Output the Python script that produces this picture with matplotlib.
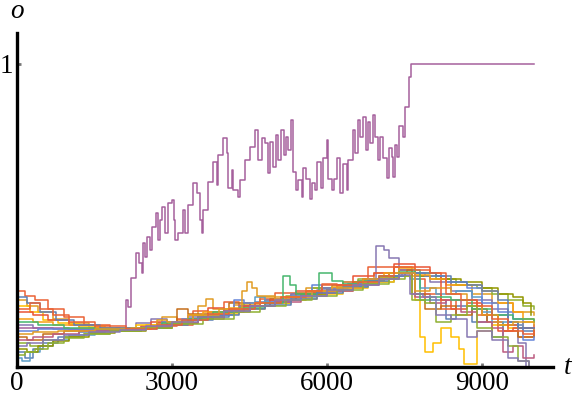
import matplotlib
matplotlib.use('Agg')
import matplotlib.pyplot as plt

# 每条轨迹: (t, o) 阶梯点
run_01 = [(0, 0.05), (150, 0.03), (300, 0.06), (500, 0.08), (800, 0.10), (1200, 0.115), (1700, 0.122),
          (2300, 0.13), (2900, 0.15), (3300, 0.17), (3600, 0.165), (4100, 0.19), (4600, 0.215), (4900, 0.21),
          (5300, 0.24), (5800, 0.25), (6200, 0.265), (6700, 0.285), (7100, 0.30), (7450, 0.31), (7700, 0.24),
          (8000, 0.22), (8300, 0.16), (8500, 0.20), (8800, 0.15), (9100, 0.17), (9500, 0.14), (9800, 0.12),
          (10000, 0.12)]
run_02 = [(0, 0.22), (200, 0.20), (400, 0.18), (700, 0.16), (1000, 0.145), (1400, 0.13), (1900, 0.125),
          (2500, 0.14), (2800, 0.165), (3100, 0.155), (3500, 0.20), (3650, 0.225), (3800, 0.19), (4200, 0.205),
          (4700, 0.23), (5100, 0.22), (5600, 0.26), (6000, 0.25), (6500, 0.28), (6900, 0.31), (7300, 0.33),
          (7650, 0.30), (8000, 0.29), (8400, 0.27), (8800, 0.24), (9200, 0.21), (9600, 0.18), (10000, 0.17)]
run_03 = [(0, 0.08), (250, 0.07), (500, 0.09), (900, 0.10), (1300, 0.11), (1800, 0.12), (2400, 0.13),
          (3000, 0.15), (3400, 0.17), (3900, 0.18), (4400, 0.21), (4800, 0.22), (5200, 0.235), (5700, 0.26),
          (6100, 0.27), (6600, 0.29), (7000, 0.30), (7400, 0.32), (7700, 0.31), (8100, 0.29), (8500, 0.27),
          (8900, 0.26), (9200, 0.24), (9500, 0.22), (9800, 0.20), (10000, 0.19)]
run_04 = [(0, 0.25), (150, 0.235), (350, 0.22), (600, 0.19), (900, 0.165), (1300, 0.14), (1800, 0.128),
          (2400, 0.135), (3100, 0.16), (3400, 0.185), (3700, 0.17), (4000, 0.215), (4300, 0.20), (4700, 0.225),
          (5000, 0.245), (5400, 0.24), (5900, 0.27), (6400, 0.275), (6800, 0.33), (7100, 0.33), (7400, 0.32),
          (7700, 0.29), (7900, 0.24), (8200, 0.19), (8500, 0.22), (8900, 0.17), (9300, 0.14), (9700, 0.10),
          (10000, 0.11)]
run_05 = [(0, 0.14), (300, 0.13), (700, 0.125), (1200, 0.125), (2000, 0.125), (2300, 0.145), (2600, 0.16),
          (2900, 0.15), (3300, 0.165), (3800, 0.18), (4300, 0.20), (4800, 0.22), (5300, 0.24), (5800, 0.255),
          (6300, 0.27), (6800, 0.29), (6950, 0.40), (7100, 0.385), (7200, 0.36), (7400, 0.32), (7700, 0.30),
          (8000, 0.28), (8400, 0.25), (8800, 0.22), (9200, 0.19), (9500, 0.15), (9700, 0.08), (9850, 0.0),
          (10000, 0.0)]
run_06 = [(0, 0.10), (200, 0.09), (500, 0.11), (900, 0.12), (1500, 0.123), (2200, 0.13), (2700, 0.145),
          (3100, 0.19), (3300, 0.175), (3700, 0.18), (4100, 0.21), (4500, 0.20), (4900, 0.225), (5400, 0.245),
          (5900, 0.26), (6300, 0.28), (6700, 0.29), (7200, 0.31), (7550, 0.32), (7650, 0.24), (7900, 0.19),
          (8200, 0.20), (8500, 0.17), (8800, 0.19), (9100, 0.15), (9400, 0.12), (9700, 0.10), (10000, 0.13)]
run_07 = [(0, 0.03), (100, 0.02), (250, 0.05), (450, 0.07), (700, 0.09), (1000, 0.105), (1500, 0.118),
          (2100, 0.125), (2700, 0.14), (3200, 0.155), (3700, 0.175), (4200, 0.19), (4600, 0.23), (4800, 0.215),
          (5300, 0.23), (5800, 0.25), (6300, 0.265), (6800, 0.28), (7300, 0.30), (7600, 0.29), (7800, 0.26),
          (8100, 0.24), (8500, 0.25), (8800, 0.23), (9000, 0.18), (9200, 0.10), (9400, 0.15), (9700, 0.13),
          (10000, 0.13)]
run_08 = [(0, 0.20), (250, 0.18), (500, 0.155), (800, 0.145), (1200, 0.135), (1700, 0.13), (2300, 0.14),
          (2800, 0.145), (3300, 0.16), (3800, 0.175), (4300, 0.19), (4800, 0.21), (5300, 0.225), (5800, 0.24),
          (6300, 0.26), (6800, 0.28), (7300, 0.30), (7600, 0.31), (7700, 0.22), (7800, 0.10), (7900, 0.05),
          (8050, 0.08), (8200, 0.13), (8400, 0.10), (8550, 0.06), (8650, 0.01), (8900, 0.12), (9200, 0.14),
          (9500, 0.13), (9800, 0.15), (10000, 0.15)]
run_09 = [(0, 0.13), (1000, 0.125), (2109, 0.221), (2148, 0.198), (2206, 0.294), (2303, 0.376), (2361, 0.343),
          (2419, 0.310), (2438, 0.409), (2477, 0.363), (2516, 0.429), (2574, 0.386), (2612, 0.462),
          (2690, 0.508), (2729, 0.419), (2767, 0.485), (2806, 0.528), (2864, 0.442), (2922, 0.541),
          (2999, 0.551), (3038, 0.485), (3057, 0.419), (3115, 0.442), (3212, 0.518), (3251, 0.442),
          (3309, 0.535), (3406, 0.607), (3483, 0.574), (3541, 0.485), (3580, 0.442), (3599, 0.518),
          (3696, 0.611), (3793, 0.677), (3870, 0.601), (3889, 0.700), (3986, 0.756), (4064, 0.706),
          (4083, 0.591), (4160, 0.650), (4180, 0.584), (4276, 0.560), (4315, 0.617), (4412, 0.683),
          (4509, 0.726), (4605, 0.782), (4663, 0.683), (4741, 0.756), (4799, 0.739), (4857, 0.640),
          (4896, 0.743), (4954, 0.660), (5012, 0.766), (5050, 0.683), (5108, 0.782), (5166, 0.700),
          (5205, 0.759), (5244, 0.716), (5302, 0.815), (5341, 0.644), (5399, 0.584), (5437, 0.617),
          (5515, 0.561), (5534, 0.657), (5592, 0.620), (5670, 0.555), (5708, 0.607), (5766, 0.584),
          (5805, 0.677), (5882, 0.591), (5921, 0.690), (5998, 0.750), (6018, 0.620), (6095, 0.584),
          (6134, 0.620), (6192, 0.690), (6250, 0.574), (6308, 0.670), (6386, 0.584), (6405, 0.683),
          (6502, 0.782), (6540, 0.706), (6598, 0.815), (6637, 0.760), (6695, 0.825), (6753, 0.716),
          (6792, 0.809), (6831, 0.740), (6889, 0.832), (6927, 0.759), (6985, 0.683), (7024, 0.759),
          (7082, 0.690), (7159, 0.624), (7198, 0.723), (7256, 0.693), (7276, 0.627), (7314, 0.733),
          (7353, 0.693), (7392, 0.795), (7469, 0.759), (7508, 0.858), (7585, 0.957), (7624, 1.0), (10000, 1.0)]
run_10 = [(0, 0.06), (200, 0.05), (400, 0.07), (700, 0.085), (1000, 0.10), (1400, 0.112), (1900, 0.12),
          (2500, 0.13), (3000, 0.145), (3500, 0.165), (4000, 0.185), (4500, 0.20), (5000, 0.22), (5500, 0.24),
          (6000, 0.255), (6500, 0.275), (7000, 0.295), (7400, 0.31), (7800, 0.30), (8200, 0.29), (8600, 0.28),
          (9000, 0.26), (9300, 0.24), (9600, 0.23), (9800, 0.21), (9950, 0.17)]
run_11 = [(0, 0.18), (300, 0.17), (600, 0.155), (1000, 0.14), (1500, 0.13), (2000, 0.125), (2600, 0.15),
          (2900, 0.14), (3400, 0.16), (3700, 0.195), (4000, 0.185), (4400, 0.20), (4900, 0.22), (5400, 0.25),
          (5700, 0.245), (6200, 0.27), (6500, 0.30), (6900, 0.31), (7300, 0.34), (7500, 0.34), (7700, 0.33),
          (8000, 0.31), (8200, 0.22), (8400, 0.19), (8700, 0.21), (9000, 0.17), (9300, 0.12), (9600, 0.13),
          (10000, 0.14)]
run_12 = [(0, 0.12), (400, 0.125), (900, 0.124), (1600, 0.124), (2300, 0.13), (2800, 0.15), (3200, 0.16),
          (3700, 0.17), (4200, 0.22), (4400, 0.21), (4900, 0.215), (5300, 0.235), (5700, 0.27), (5900, 0.26),
          (6400, 0.275), (6800, 0.29), (7200, 0.30), (7500, 0.31), (7900, 0.30), (8300, 0.28), (8700, 0.26),
          (9000, 0.21), (9300, 0.18), (9600, 0.16), (9800, 0.09), (10000, 0.10)]
run_13 = [(0, 0.16), (300, 0.15), (700, 0.14), (1200, 0.13), (1900, 0.125), (2600, 0.135), (3000, 0.15),
          (3300, 0.17), (3600, 0.18), (4100, 0.195), (4600, 0.21), (5100, 0.23), (5600, 0.25), (6100, 0.265),
          (6600, 0.285), (7100, 0.31), (7400, 0.325), (7700, 0.305), (8000, 0.29), (8300, 0.27), (8700, 0.27),
          (9000, 0.25), (9300, 0.21), (9600, 0.18), (9800, 0.16), (10000, 0.15)]
run_14 = [(0, 0.09), (300, 0.10), (700, 0.11), (1200, 0.118), (1800, 0.123), (2400, 0.132), (3000, 0.145),
          (3500, 0.16), (4000, 0.18), (4500, 0.20), (5000, 0.215), (5500, 0.235), (6000, 0.25), (6500, 0.27),
          (7000, 0.29), (7400, 0.31), (7700, 0.23), (8000, 0.21), (8300, 0.22), (8600, 0.18), (8900, 0.15),
          (9200, 0.13), (9400, 0.05), (9600, 0.07), (9800, 0.03), (10000, 0.04)]
run_15 = [(0, 0.15), (400, 0.14), (900, 0.13), (1500, 0.127), (2200, 0.13), (2800, 0.145), (3300, 0.16),
          (3800, 0.18), (4300, 0.195), (4800, 0.21), (5150, 0.30), (5280, 0.27), (5400, 0.24), (5800, 0.25),
          (5850, 0.31), (6100, 0.285), (6300, 0.275), (6600, 0.285), (7000, 0.30), (7400, 0.315), (7700, 0.32),
          (7800, 0.22), (8000, 0.23), (8400, 0.22), (8800, 0.19), (9200, 0.17), (9600, 0.16), (10000, 0.15)]
run_16 = [(0, 0.23), (200, 0.21), (450, 0.18), (750, 0.155), (1100, 0.14), (1600, 0.13), (2200, 0.128),
          (2800, 0.14), (3300, 0.155), (3800, 0.17), (4300, 0.19), (4800, 0.205), (5300, 0.225), (5800, 0.245),
          (6300, 0.265), (6800, 0.285), (7200, 0.30), (7500, 0.31), (7800, 0.31), (8100, 0.30), (8400, 0.28),
          (8700, 0.27), (9000, 0.25), (9300, 0.22), (9500, 0.15), (9700, 0.13), (10000, 0.13)]
run_17 = [(0, 0.11), (300, 0.115), (800, 0.12), (1500, 0.125), (2200, 0.128), (2700, 0.155), (2900, 0.15),
          (3400, 0.17), (3900, 0.19), (4350, 0.25), (4450, 0.28), (4550, 0.26), (4650, 0.235), (5000, 0.22),
          (5200, 0.23), (5700, 0.25), (6200, 0.26), (6700, 0.29), (7200, 0.31), (7500, 0.31), (7700, 0.25),
          (8000, 0.26), (8400, 0.24), (8700, 0.20), (9000, 0.17), (9300, 0.14), (9600, 0.15), (10000, 0.14)]
run_18 = [(0, 0.04), (150, 0.05), (350, 0.06), (600, 0.08), (900, 0.095), (1300, 0.108), (1800, 0.118),
          (2400, 0.128), (3000, 0.142), (3600, 0.16), (4200, 0.18), (4700, 0.20), (5200, 0.22), (5700, 0.235),
          (6200, 0.255), (6700, 0.275), (7200, 0.29), (7500, 0.30), (7650, 0.22), (7900, 0.21), (8100, 0.15),
          (8400, 0.17), (8700, 0.20), (8900, 0.13), (9200, 0.10), (9500, 0.07), (9700, 0.02), (9900, 0.0),
          (10000, 0.0)]
run_19 = [(0, 0.19), (250, 0.21), (450, 0.19), (700, 0.17), (1000, 0.15), (1500, 0.135), (2100, 0.127),
          (2700, 0.14), (3200, 0.155), (3700, 0.175), (4100, 0.19), (4600, 0.21), (5100, 0.23), (5600, 0.25),
          (5900, 0.275), (6200, 0.27), (6600, 0.28), (7000, 0.30), (7300, 0.33), (7700, 0.32), (8000, 0.31),
          (8300, 0.24), (8600, 0.22), (8900, 0.20), (9200, 0.16), (9500, 0.12), (9800, 0.11), (10000, 0.12)]
run_20 = [(0, 0.07), (200, 0.08), (500, 0.09), (900, 0.105), (1400, 0.115), (2000, 0.122), (2500, 0.135),
          (3000, 0.148), (3500, 0.165), (4000, 0.185), (4500, 0.20), (5000, 0.22), (5500, 0.235), (6000, 0.255),
          (6500, 0.27), (7000, 0.29), (7400, 0.305), (7600, 0.24), (7850, 0.23), (8100, 0.17), (8400, 0.16),
          (8700, 0.10), (8900, 0.12), (9200, 0.09), (9500, 0.03), (9700, 0.02), (9900, 0.0), (10000, 0.0)]

runs = [run_01, run_02, run_03, run_04, run_05, run_06, run_07, run_08, run_09, run_10,
        run_11, run_12, run_13, run_14, run_15, run_16, run_17, run_18, run_19, run_20]

x_ticks = [0, 3000, 6000, 9000]
y_ticks = [1]

# Mathematica 默认配色
palette = ['#5E81B5', '#E19C24', '#8FB032', '#EB6235', '#8778B3', '#C56E1A', '#5D9EC7', '#FFBF00',
           '#A5609D', '#929600', '#E95536', '#6685D9', '#F89F13', '#BC5B80', '#47B66D']

plt.rcParams['font.family'] = ['Liberation Serif', 'DejaVu Serif']

fig = plt.figure(figsize=(5.76, 4.01), dpi=100)
ax = fig.add_axes([17 / 576, 34 / 401, 536 / 576, 334 / 401])

for i, run in enumerate(runs):
    t, o = zip(*run)
    ax.step(t, o, where='post', color=palette[i % len(palette)], lw=1.1)

ax.set_xlim(0, 10372)
ax.set_ylim(0, 1.102)

for side in ['top', 'right']:
    ax.spines[side].set_visible(False)
for side in ['left', 'bottom']:
    ax.spines[side].set_linewidth(2.4)
    ax.spines[side].set_zorder(5)

ax.set_xticks(x_ticks)
ax.set_xticklabels([str(v) for v in x_ticks])
ax.set_yticks(y_ticks)
ax.set_yticklabels(['1'])
ax.tick_params(direction='in', length=3, width=2, color='#777777', labelsize=19.5, pad=3)

fig.text(568 / 576, 1 - 368 / 401, 't', fontsize=19.5, style='italic', ha='center', va='center')
fig.text(17 / 576, 1 - 12 / 401, 'o', fontsize=19.5, style='italic', ha='center', va='center')

plt.savefig('out.png', dpi=100)
